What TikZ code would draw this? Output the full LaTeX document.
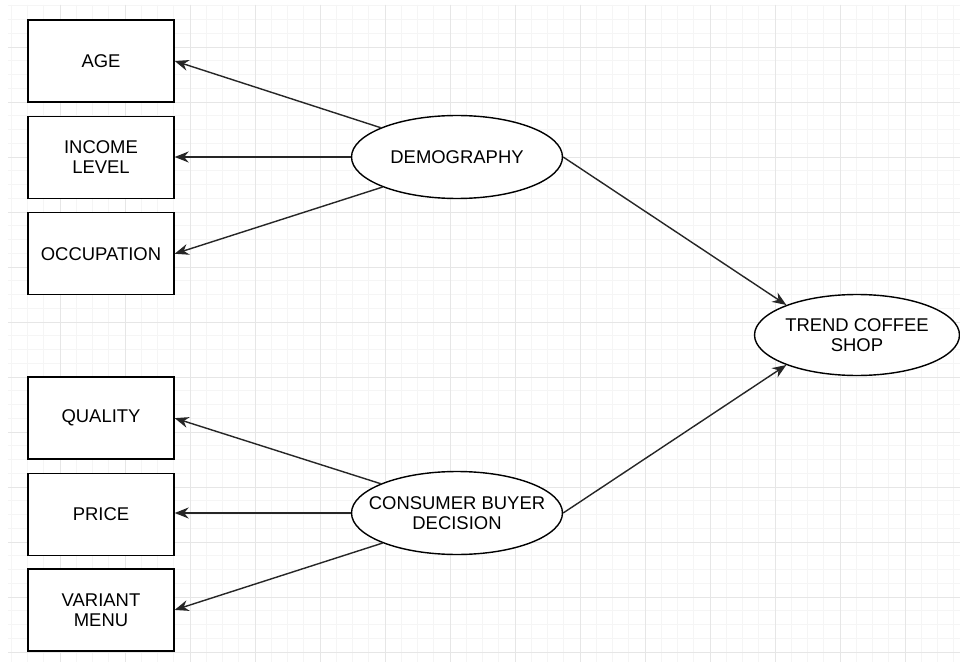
\documentclass[tikz,border=0pt]{standalone}
\usepackage{fontspec}
\setsansfont{Liberation Sans}
\usetikzlibrary{arrows.meta, positioning, shapes.geometric}
\definecolor{gmajor}{HTML}{E6E6E6}
\definecolor{gminor}{HTML}{F5F5F5}
\tikzset{
  >={Stealth[length=2.8mm,width=2.2mm]},
  font=\sffamily\fontsize{10.5}{11.2}\selectfont,
  factor/.style={
    draw=black, fill=white, line width=0.8pt, align=center,
    minimum width=2.92cm, minimum height=1.64cm, inner sep=2pt
  },
  construct/.style={
    ellipse, draw=black, fill=white, line width=0.8pt, align=center,
    minimum width=4.22cm, minimum height=1.66cm, inner ysep=0pt, inner xsep=-0.7cm
  },
  link/.style={->, line width=0.8pt, draw=black!85},
  gridmajor/.style={draw=gmajor, line width=0.5pt},
  gridminor/.style={draw=gminor, line width=0.4pt}
}
\begin{document}
\begin{tikzpicture}[x=0.02cm, y=-0.02cm]
  \useasboundingbox (0,0) rectangle (960,662);
  \fill[white] (0,0) rectangle (960,662);
  % background grid
  \foreach \i in {0,...,58} \draw[gridminor] ({11.25+16.25*\i},5) -- (11.25+16.25*\i,662);
  \foreach \i in {0,...,47} \draw[gridminor] (8,{5.75+13.75*\i}) -- (960,5.75+13.75*\i);
  \foreach \i in {0,...,13} \draw[gridmajor] ({60+65*\i},5) -- (60+65*\i,662);
  \foreach \i in {0,...,11} \draw[gridmajor] (8,{47+55*\i}) -- (960,47+55*\i);

  % left column
  \node[factor] (age) at (101,61) {AGE};
  \node[factor,below=0.26cm of age] (income) {INCOME\\LEVEL};
  \node[factor,below=0.26cm of income] (occup) {OCCUPATION};
  \node[factor,below=1.62cm of occup] (quality) {QUALITY};
  \node[factor,below=0.26cm of quality] (price) {PRICE};
  \node[factor,below=0.24cm of price] (variant) {VARIANT\\MENU};

  % constructs
  \node[construct] (demo) at (457,157) {DEMOGRAPHY};
  \node[construct] (cbd) at (457,513) {CONSUMER BUYER\\DECISION};
  \node[construct,minimum width=4.1cm,minimum height=1.62cm] (trend) at (857,335) {TREND COFFEE\\SHOP};

  \draw[link] (demo.159) -- (age.east);
  \draw[link] (demo.west) -- (demo.west -| income.east);
  \draw[link] (demo.202) -- (occup.east);
  \draw[link] (cbd.159) -- (quality.east);
  \draw[link] (cbd.west) -- (cbd.west -| price.east);
  \draw[link] (cbd.202) -- (variant.east);
  \draw[link] (demo.east) -- (trend.157);
  \draw[link] (cbd.east) -- (trend.203);
\end{tikzpicture}
\end{document}
